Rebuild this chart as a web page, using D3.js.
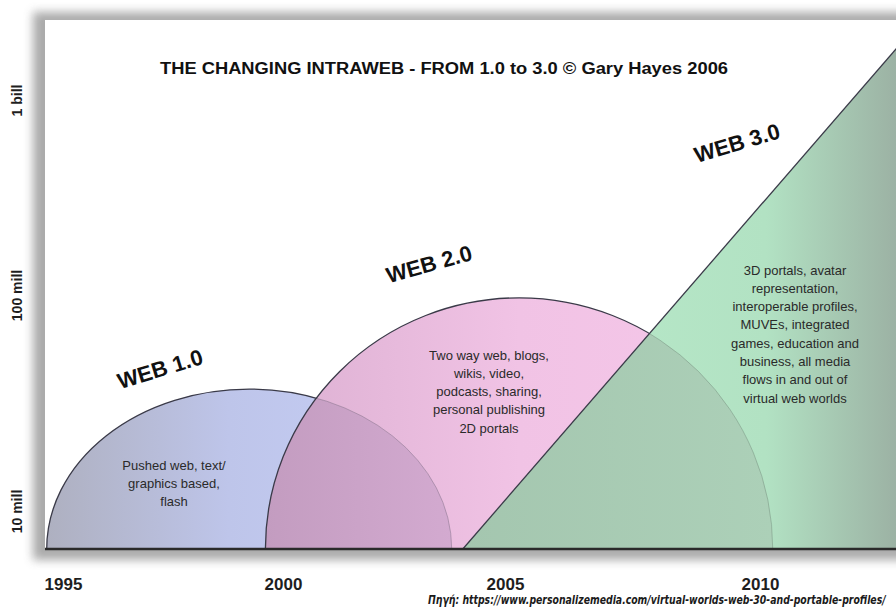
<!DOCTYPE html>
<html><head><meta charset="utf-8">
<script src="https://cdn.jsdelivr.net/npm/d3@7"></script>
<style>
html,body{margin:0;padding:0;background:#fff;}
svg{display:block;font-family:"Liberation Sans",Arial,Helvetica,sans-serif;}
</style>
</head><body>
<svg id="chart" width="896" height="614"></svg>
<script>
// ---------- data ----------
const title = "THE CHANGING INTRAWEB - FROM 1.0 to 3.0 \u00A9 Gary Hayes 2006";
const source = "Πηγή: https://www.personalizemedia.com/virtual-worlds-web-30-and-portable-profiles/";
const xTicks = [1995, 2000, 2005, 2010];
const yTicks = [1e7, 1e8, 1e9];
const yTickLabels = ["10 mill", "100 mill", "1 bill"];
const eraNames = ["WEB 1.0", "WEB 2.0", "WEB 3.0"];
const eraStart = [1994.63, 1999.6, 2004.05];
const eraEnd = [2003.8, 2010.25, 2012.7];
const eraPeak = [3.67e7, 9.7e7, 1.87e9];
const eraShape = ["arc", "arc", "ramp"];
const eraNotes = [
  ["Pushed web, text/", "graphics based,", "flash"],
  ["Two way web, blogs,", "wikis, video,", "podcasts, sharing,", "personal publishing", "2D portals"],
  ["3D portals, avatar", "representation,", "interoperable profiles,", "MUVEs, integrated",
   "games, education and", "business, all media", "flows in and out of", "virtual web worlds"]
];

// ---------- layout ----------
const W = 896, H = 614;
const baseY = 549;
const svg = d3.select("#chart");
const x = d3.scaleLinear().domain(xTicks).range([63, 283, 505, 760]);
const y = d3.scaleLog().domain(yTicks).range([511, 295, 100]);

const defs = svg.append("defs");
defs.append("filter").attr("id", "blur").attr("x", "-10%").attr("y", "-10%").attr("width", "120%").attr("height", "120%")
  .append("feGaussianBlur").attr("stdDeviation", 5);

function grad(id, stops, x1, x2) {
  const g = defs.append("linearGradient").attr("id", id)
    .attr("gradientUnits", "userSpaceOnUse").attr("x1", x1).attr("x2", x2).attr("y1", 0).attr("y2", 0);
  stops.forEach(s => g.append("stop").attr("offset", s[0]).attr("stop-color", s[1]));
}

// geometry of each era from the scales
const eras = eraNames.map((name, i) => {
  const x0 = x(eraStart[i]), x1 = x(eraEnd[i]), top = y(eraPeak[i]);
  let d, outline;
  if (eraShape[i] === "arc") {
    const rx = (x1 - x0) / 2, ry = baseY - top;
    outline = `M${x0},${baseY} A${rx},${ry} 0 0 1 ${x1},${baseY}`;
    d = outline + " Z";
  } else {
    outline = `M${x0},${baseY} L${x1},${top}`;
    d = `M${x0},${baseY} L${x1},${top} L${x1},${baseY} Z`;
  }
  return {name, i, x0, x1, top, d, outline};
});

grad("g1", [[0, "#aeb0c0"], [0.45, "#bec5ea"], [1, "#c7d0f8"]], eras[0].x0, eras[0].x1);
grad("g2", [[0, "#dcb0d2"], [0.5, "#f1c3e5"], [1, "#f6c7e9"]], eras[1].x0, eras[1].x1);
grad("g12", [[0, "#c39cc0"], [1, "#d3aad0"]], eras[1].x0, eras[0].x1);
grad("g3", [[0, "#b9eccb"], [0.7, "#b2e2c3"], [1, "#9cb2a4"]], eras[2].x0, W);
grad("g23", [[0, "#a4c6af"], [1, "#acd0b8"]], eras[2].x0, eras[1].x1);

eras.forEach(e => {
  defs.append("clipPath").attr("id", "clip" + e.i).append("path").attr("d", e.d);
});

// ---------- panel with shadow ----------
svg.append("rect").attr("x", 33).attr("y", 12).attr("width", 900).attr("height", 548)
  .attr("fill", "#8f8f8f").attr("opacity", 0.75).attr("filter", "url(#blur)");
svg.append("rect").attr("x", 45).attr("y", 20).attr("width", 880).attr("height", baseY - 20)
  .attr("fill", "#ffffff");

// ---------- shapes ----------
const ink = "#3a3a48";
const layer = svg.append("g");
// web 1.0
layer.append("path").attr("d", eras[0].d).attr("fill", "url(#g1)");
layer.append("path").attr("d", eras[0].outline).attr("fill", "none").attr("stroke", ink).attr("stroke-width", 1.3);
// web 2.0
layer.append("path").attr("d", eras[1].d).attr("fill", "url(#g2)");
// overlap 1.0 / 2.0
layer.append("path").attr("d", eras[0].d).attr("fill", "url(#g12)").attr("clip-path", "url(#clip1)");
layer.append("path").attr("d", eras[0].outline).attr("fill", "none").attr("stroke", "#7a6a80")
  .attr("stroke-opacity", 0.45).attr("stroke-width", 1).attr("clip-path", "url(#clip1)");
layer.append("path").attr("d", eras[1].outline).attr("fill", "none").attr("stroke", ink).attr("stroke-width", 1.3);
// web 3.0
layer.append("path").attr("d", eras[2].d).attr("fill", "url(#g3)");
layer.append("path").attr("d", eras[1].d).attr("fill", "url(#g23)").attr("clip-path", "url(#clip2)");
layer.append("path").attr("d", eras[1].outline).attr("fill", "none").attr("stroke", "#6a8070")
  .attr("stroke-opacity", 0.4).attr("stroke-width", 1).attr("clip-path", "url(#clip2)");
layer.append("path").attr("d", eras[2].outline).attr("fill", "none").attr("stroke", ink).attr("stroke-width", 1.3);

// baseline
svg.append("line").attr("x1", 45).attr("x2", W).attr("y1", baseY).attr("y2", baseY)
  .attr("stroke", "#2a2a2a").attr("stroke-width", 2.5);

// ---------- era labels & notes ----------
const labelPos = [[160, 369, -17], [429, 264, -15.5], [737, 143, -16.5]];
const notePos = [[174, 465], [489, 355], [795, 270]];
const lineH = 18.3;
eras.forEach(e => {
  const [lx, ly, rot] = labelPos[e.i];
  svg.append("text").attr("transform", `translate(${lx},${ly}) rotate(${rot})`)
    .attr("text-anchor", "middle").attr("dy", "0.35em")
    .attr("font-size", 22).attr("font-weight", "bold").attr("fill", "#111")
    .text(e.name);
  const [nx, ny] = notePos[e.i];
  const t = svg.append("text").attr("text-anchor", "middle").attr("font-size", 13).attr("fill", "#2a2a2a");
  eraNotes[e.i].forEach((line, k) => {
    t.append("tspan").attr("x", nx).attr("y", ny + k * lineH).attr("dy", "0.35em").text(line);
  });
});

// ---------- axes ----------
const xAxis = svg.append("g").attr("transform", `translate(0,575)`)
  .call(d3.axisBottom(x).tickValues(xTicks).tickFormat(d3.format("d")).tickSize(0));
xAxis.select(".domain").remove();
xAxis.selectAll("text").attr("font-size", 17).attr("font-weight", "bold").attr("fill", "#1e1e1e")
  .attr("font-family", "'Liberation Sans', Arial, sans-serif");

const yAxis = svg.append("g").attr("transform", `translate(22,0)`)
  .call(d3.axisLeft(y).tickValues(yTicks).tickFormat((d, i) => yTickLabels[i]).tickSize(0));
yAxis.select(".domain").remove();
yAxis.selectAll("text").attr("x", 0).attr("dy", 0).attr("transform", "rotate(-90)")
  .attr("text-anchor", "middle").attr("font-size", 14).attr("font-weight", "bold").attr("fill", "#1e1e1e")
  .attr("font-family", "'Liberation Sans', Arial, sans-serif");

// ---------- title & source ----------
svg.append("text").attr("x", 160).attr("y", 74).attr("font-size", 16).attr("font-weight", "bold")
  .attr("fill", "#111").attr("textLength", 568).attr("lengthAdjust", "spacingAndGlyphs").text(title);

const src = svg.append("text").attr("x", 0).attr("y", 0).attr("font-size", 12).attr("font-style", "italic")
  .attr("font-weight", "bold")
  .attr("font-family", "'Liberation Sans Narrow','DejaVu Sans Condensed',sans-serif")
  .attr("fill", "#1a1a1a").text(source);
const srcLen = src.node().getComputedTextLength() || 458;
src.attr("transform", `translate(428,604) scale(${458 / srcLen},1)`);
</script>
</body></html>
